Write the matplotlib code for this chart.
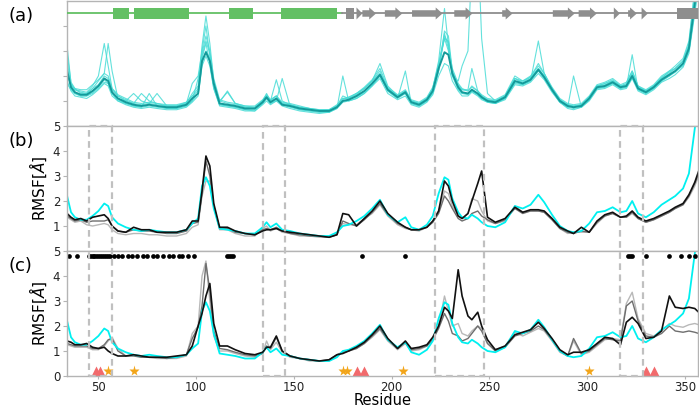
import matplotlib.pyplot as plt
from matplotlib.patches import Rectangle

# residue grid shared by every curve
residues = [34, 36, 38, 41, 44, 47, 50, 53, 55, 57,
            60, 64, 68, 72, 76, 80, 85, 90, 95, 98,
            101, 103, 105, 107, 109, 112, 116, 120, 125, 130,
            134, 136, 138, 141, 144, 148, 153, 158, 163, 168,
            172, 175, 178, 182, 186, 190, 194, 198, 203, 207,
            210, 214, 218, 221, 224, 227, 229, 231, 234, 236,
            239, 241, 244, 246, 249, 253, 258, 263, 267, 271,
            275, 278, 282, 286, 290, 293, 297, 301, 305, 309,
            313, 317, 320, 323, 326, 330, 334, 338, 342, 345,
            349, 352, 355, 357]

# mean RMSF (cyan in b/c, dark teal in a)
rmsf_mean = [2.2, 1.55, 1.35, 1.25, 1.25, 1.4, 1.6, 1.9, 1.8, 1.35,
             1.1, 0.95, 0.85, 0.8, 0.85, 0.8, 0.75, 0.75, 0.85, 1.1,
             1.3, 2.6, 2.95, 2.6, 1.7, 0.9, 0.85, 0.8, 0.7, 0.7,
             0.95, 1.15, 0.95, 1.1, 0.85, 0.8, 0.7, 0.65, 0.6, 0.6,
             0.75, 1.0, 1.05, 1.2, 1.4, 1.7, 2.05, 1.45, 1.15, 1.35,
             0.95, 0.85, 1.05, 1.4, 2.3, 2.95, 2.85, 2.1, 1.55, 1.35,
             1.3, 1.45, 1.3, 1.15, 1.0, 0.95, 1.15, 1.8, 1.7, 1.85,
             2.25, 1.95, 1.45, 1.0, 0.8, 0.75, 0.8, 1.1, 1.55, 1.6,
             1.75, 1.55, 1.6, 2.0, 1.5, 1.35, 1.55, 1.85, 2.05, 2.2,
             2.5, 3.1, 4.9, 6.0]

# individual replicas, panel (a)
rep1 = [3.2, 1.7, 1.45, 1.4, 1.35, 1.6, 2.0, 3.3, 2.4, 1.5,
        1.2, 1.0, 1.3, 1.0, 0.9, 0.85, 0.8, 0.8, 0.9, 1.3,
        1.6, 3.2, 4.4, 3.3, 1.8, 1.0, 0.9, 0.85, 0.75, 0.7,
        1.0, 1.3, 1.0, 1.2, 0.9, 0.85, 0.75, 0.7, 0.6, 0.65,
        0.8, 1.2, 1.1, 1.25, 1.5, 1.8, 2.5, 1.6, 1.2, 1.4,
        1.0, 0.9, 1.1, 1.5, 2.6, 4.7, 3.2, 2.3, 1.7, 1.5,
        1.4, 1.6, 1.4, 1.2, 1.05, 1.0, 1.2, 1.9, 1.8, 2.0,
        2.4, 2.1, 1.5, 1.05, 0.85, 0.8, 0.85, 1.15, 1.6, 1.7,
        1.85, 1.6, 1.7, 2.2, 1.6, 1.4, 1.6, 1.9, 2.2, 2.3,
        2.6, 3.3, 5.5, 6.5]
rep2 = [2.6, 1.6, 1.5, 1.3, 1.3, 1.5, 1.8, 2.1, 3.3, 2.2,
        1.1, 1.0, 0.9, 1.3, 1.0, 0.9, 0.8, 0.8, 0.95, 1.2,
        1.4, 2.8, 3.4, 2.9, 1.6, 0.95, 1.4, 0.9, 0.75, 0.75,
        1.0, 1.2, 1.0, 1.85, 1.0, 0.85, 0.7, 0.65, 0.6, 0.6,
        0.8, 1.1, 1.1, 1.3, 1.5, 1.8, 2.1, 1.5, 1.2, 1.3,
        1.0, 0.9, 1.1, 1.4, 2.4, 3.5, 3.4, 2.0, 1.8, 2.4,
        3.0, 6.5, 7.5, 3.5, 1.3, 1.0, 1.2, 1.9, 1.7, 1.9,
        2.3, 2.0, 1.5, 1.05, 0.8, 0.75, 0.85, 1.1, 1.6, 1.65,
        1.8, 1.6, 1.65, 2.1, 1.55, 1.4, 1.6, 1.9, 2.1, 2.3,
        2.6, 3.2, 5.2, 6.2]
rep3 = [2.3, 1.5, 1.3, 1.2, 1.2, 1.35, 1.55, 1.85, 1.7, 1.3,
        1.05, 0.9, 0.8, 0.75, 1.3, 0.8, 0.7, 0.7, 0.8, 1.0,
        1.9, 2.7, 3.3, 2.5, 1.5, 0.85, 0.8, 0.75, 0.65, 0.6,
        0.9, 1.1, 0.9, 1.0, 1.9, 0.8, 0.65, 0.6, 0.55, 0.55,
        0.7, 2.0, 1.0, 1.1, 1.3, 1.6, 2.0, 1.4, 1.1, 2.2,
        0.9, 0.8, 1.0, 1.3, 2.2, 3.8, 3.6, 2.2, 1.5, 1.3,
        1.3, 1.4, 1.25, 1.1, 1.0, 0.9, 1.1, 1.7, 1.65, 1.8,
        3.4, 2.1, 1.4, 0.95, 0.75, 2.0, 0.75, 1.05, 1.5, 1.55,
        1.7, 1.5, 1.55, 2.85, 1.45, 1.3, 1.5, 1.8, 2.0, 2.2,
        2.4, 3.0, 4.6, 5.8]
rep4 = [1.8, 1.4, 1.2, 1.15, 1.1, 1.25, 1.45, 1.7, 1.6, 1.2,
        1.0, 0.85, 0.75, 0.7, 0.75, 0.7, 0.65, 0.65, 0.75, 0.95,
        1.2, 2.4, 2.8, 2.4, 1.5, 0.8, 0.75, 0.7, 0.6, 0.6,
        0.85, 1.0, 0.85, 1.0, 0.8, 0.7, 0.6, 0.55, 0.5, 0.55,
        0.7, 0.95, 1.0, 1.1, 1.3, 1.6, 1.9, 1.3, 1.05, 1.2,
        0.85, 0.75, 0.95, 1.25, 2.0, 2.5, 2.4, 1.8, 1.4, 1.2,
        1.2, 1.35, 1.2, 1.05, 0.95, 0.9, 1.05, 1.65, 1.6, 1.75,
        2.1, 1.85, 1.35, 0.95, 0.7, 0.65, 0.75, 1.0, 1.45, 1.5,
        1.65, 1.45, 1.5, 1.9, 1.4, 1.25, 1.45, 1.75, 1.9, 2.05,
        2.35, 2.9, 4.5, 5.6]
rep5 = [2.0, 1.65, 1.45, 1.35, 1.3, 1.5, 1.65, 2.0, 1.9, 1.45,
        1.2, 1.05, 0.9, 0.85, 0.9, 1.3, 0.8, 0.8, 0.9, 1.7,
        2.0, 3.0, 4.0, 2.8, 1.7, 1.0, 1.35, 0.9, 0.8, 0.75,
        1.0, 1.2, 1.05, 1.2, 0.9, 0.85, 0.75, 0.7, 0.65, 0.65,
        0.8, 1.05, 1.15, 1.3, 1.5, 1.8, 2.2, 1.5, 1.2, 1.4,
        1.0, 0.9, 1.1, 1.5, 2.5, 3.5, 3.0, 2.1, 1.6, 1.45,
        1.45, 2.3, 1.4, 1.2, 1.05, 1.0, 1.2, 1.9, 1.75, 1.95,
        2.3, 2.0, 1.5, 1.05, 0.85, 0.8, 0.85, 1.15, 1.6, 1.7,
        1.8, 1.6, 1.65, 2.1, 1.55, 1.4, 1.6, 1.95, 2.15, 2.3,
        2.6, 3.2, 5.0, 6.2]
rep6 = [1.7, 1.45, 1.3, 1.2, 1.2, 1.3, 1.5, 1.75, 1.7, 1.3,
        1.0, 0.9, 0.8, 0.75, 0.8, 0.75, 0.7, 0.7, 0.8, 1.0,
        1.3, 2.5, 3.0, 2.7, 1.6, 0.85, 0.8, 0.75, 0.65, 0.65,
        0.9, 1.1, 0.9, 1.05, 0.85, 0.75, 0.65, 0.6, 0.55, 0.55,
        0.75, 1.0, 1.05, 1.15, 1.35, 1.65, 2.0, 1.4, 1.1, 1.3,
        0.9, 0.8, 1.0, 1.35, 2.2, 3.6, 3.3, 2.0, 1.45, 1.3,
        1.25, 1.4, 1.25, 1.1, 0.95, 0.9, 1.1, 1.75, 1.65, 1.8,
        2.2, 1.9, 1.4, 0.95, 0.75, 0.7, 0.75, 1.05, 1.5, 1.55,
        1.7, 1.5, 1.55, 1.95, 1.45, 1.3, 1.5, 1.8, 2.0, 2.15,
        2.45, 3.0, 4.7, 6.0]
rep7 = [2.9, 1.75, 1.5, 1.45, 1.45, 1.65, 1.85, 2.1, 2.0, 1.5,
        1.25, 1.1, 0.95, 0.9, 0.95, 0.9, 0.85, 0.85, 0.95, 1.2,
        1.5, 2.9, 3.6, 3.0, 1.9, 1.05, 0.95, 0.9, 0.8, 0.8,
        1.05, 1.25, 1.05, 1.2, 0.95, 0.9, 0.8, 0.7, 0.65, 0.65,
        0.85, 1.1, 1.15, 1.3, 1.55, 1.85, 2.3, 1.55, 1.25, 1.45,
        1.05, 0.95, 1.15, 1.55, 2.4, 3.7, 3.1, 2.2, 1.65, 1.45,
        1.4, 1.55, 1.4, 1.25, 1.1, 1.05, 1.25, 2.0, 1.8, 1.95,
        2.5, 2.1, 1.55, 1.1, 0.9, 0.85, 0.9, 1.2, 1.65, 1.75,
        1.9, 1.65, 1.75, 2.2, 1.6, 1.45, 1.65, 2.0, 2.2, 2.4,
        2.7, 3.4, 5.4, 6.6]
replicas = [rep1, rep2, rep3, rep4, rep5, rep6, rep7]

# panel (b)
b_black = [1.5, 1.35, 1.25, 1.3, 1.2, 1.35, 1.4, 1.45, 1.3, 1.0,
           0.8, 0.75, 0.95, 0.85, 0.85, 0.75, 0.75, 0.75, 0.85, 1.2,
           1.2, 2.4, 3.8, 3.4, 1.9, 0.95, 0.95, 0.8, 0.7, 0.65,
           0.8, 0.85, 0.85, 0.9, 0.8, 0.75, 0.7, 0.65, 0.6, 0.55,
           0.65, 1.5, 1.45, 1.0, 1.3, 1.6, 2.0, 1.5, 1.15, 0.95,
           0.85, 0.85, 0.95, 1.2, 1.6, 2.8, 2.6, 2.0, 1.4, 1.3,
           1.5, 2.0, 2.7, 3.2, 1.35, 1.15, 1.3, 1.75, 1.55, 1.65,
           1.65, 1.6, 1.3, 0.95, 0.8, 0.7, 0.95, 0.75, 1.2, 1.45,
           1.55, 1.35, 1.4, 1.6, 1.35, 1.2, 1.3, 1.45, 1.6, 1.75,
           1.9, 2.25, 2.75, 3.2]
b_dgray = [1.4, 1.3, 1.2, 1.25, 1.15, 1.2, 1.2, 1.2, 1.25, 1.0,
           0.8, 0.75, 0.85, 0.8, 0.8, 0.75, 0.7, 0.7, 0.8, 1.1,
           1.15, 2.3, 3.6, 3.0, 1.8, 0.9, 0.9, 0.75, 0.7, 0.65,
           0.85, 0.9, 0.85, 0.95, 0.8, 0.7, 0.65, 0.6, 0.6, 0.55,
           0.65, 1.2, 1.1, 1.0, 1.25, 1.55, 1.9, 1.45, 1.1, 0.95,
           0.85, 0.85, 0.95, 1.15, 1.5, 2.2, 2.0, 1.7, 1.3, 1.2,
           1.3, 1.5, 1.6, 1.4, 1.25, 1.1, 1.25, 1.7, 1.5, 1.6,
           1.6, 1.55, 1.25, 0.9, 0.75, 0.7, 0.8, 0.75, 1.15, 1.4,
           1.5, 1.35, 1.35, 1.55, 1.3, 1.15, 1.25, 1.4, 1.55, 1.7,
           1.85, 2.2, 2.7, 3.1]
b_lgray = [1.35, 1.25, 1.15, 1.2, 1.05, 1.0, 1.05, 1.1, 1.05, 0.85,
           0.7, 0.65, 0.7, 0.7, 0.65, 0.65, 0.6, 0.6, 0.7, 0.95,
           1.05, 2.2, 2.8, 2.8, 1.8, 0.85, 0.85, 0.7, 0.6, 0.6,
           0.9, 1.0, 0.8, 0.9, 0.75, 0.7, 0.6, 0.6, 0.55, 0.55,
           0.7, 1.1, 1.05, 1.05, 1.3, 1.5, 1.85, 1.4, 1.05, 0.9,
           0.85, 0.8, 0.95, 1.15, 1.6, 2.4, 2.3, 1.8, 1.4, 1.3,
           1.5, 2.1, 2.0, 1.6, 1.2, 1.1, 1.2, 1.8, 1.55, 1.6,
           1.6, 1.55, 1.25, 0.9, 0.7, 0.75, 0.75, 0.75, 1.1, 1.4,
           1.5, 1.35, 1.35, 1.5, 1.3, 1.15, 1.25, 1.4, 1.55, 1.7,
           1.85, 2.15, 2.6, 3.0]

# panel (c)
c_black = [1.4, 1.35, 1.25, 1.25, 1.3, 1.15, 1.1, 1.15, 1.0, 0.9,
           0.8, 0.8, 0.85, 0.8, 0.75, 0.75, 0.75, 0.8, 0.85, 1.2,
           2.0, 2.5, 3.2, 3.7, 2.1, 1.2, 1.2, 1.05, 0.9, 0.85,
           0.95, 1.15, 1.15, 1.6, 1.0, 0.8, 0.7, 0.65, 0.6, 0.65,
           0.85, 0.9, 1.0, 1.15, 1.35, 1.65, 2.0, 1.5, 1.1, 1.4,
           1.1, 1.15, 1.25, 1.55, 2.0, 2.75, 2.6, 2.3, 4.25, 3.2,
           2.4, 2.25, 2.55, 2.0, 1.45, 1.05, 1.2, 1.65, 1.75, 1.85,
           2.15, 1.9, 1.5, 1.05, 0.85, 0.95, 0.95, 1.05, 1.3, 1.55,
           1.5, 1.25, 2.15, 2.35, 2.1, 1.5, 1.55, 1.8, 3.2, 2.75,
           2.7, 2.75, 2.7, 2.55]
c_dgray = [1.3, 1.25, 1.2, 1.2, 1.2, 1.1, 1.1, 1.25, 1.45, 1.5,
           1.0, 0.8, 0.8, 0.75, 0.75, 0.75, 0.7, 0.75, 0.85, 1.5,
           1.95, 2.8, 4.5, 3.4, 1.8, 1.1, 1.05, 0.95, 0.85, 0.8,
           0.9, 1.2, 1.1, 1.55, 1.0, 0.8, 0.7, 0.65, 0.6, 0.65,
           0.85, 0.95, 1.0, 1.1, 1.3, 1.6, 1.9, 1.45, 1.1, 1.35,
           1.05, 1.1, 1.2, 1.45, 1.9, 2.5, 2.2, 1.7, 1.6, 1.4,
           1.5, 1.7, 2.0, 1.8, 1.3, 1.0, 1.15, 1.6, 1.7, 1.8,
           2.0, 1.85, 1.45, 1.0, 0.8, 1.5, 0.9, 1.0, 1.25, 1.5,
           1.45, 1.4, 2.8, 3.0, 2.2, 1.6, 1.55, 1.7, 2.0, 1.8,
           1.75, 1.8, 1.75, 1.7]
c_lgray = [1.25, 1.2, 1.15, 1.15, 1.15, 1.05, 1.05, 1.2, 1.4, 1.55,
           1.1, 0.8, 0.85, 0.75, 0.75, 0.7, 0.7, 0.7, 0.8, 1.7,
           2.0, 4.0, 4.6, 3.0, 1.6, 1.0, 1.0, 0.9, 0.8, 0.75,
           0.9, 1.4, 1.05, 1.35, 0.95, 0.75, 0.7, 0.6, 0.6, 0.6,
           0.8, 0.95, 1.0, 1.1, 1.3, 1.55, 1.85, 1.4, 1.05, 1.3,
           1.0, 1.05, 1.2, 1.5, 2.0, 3.2, 2.6, 2.0, 2.1, 1.7,
           1.6, 1.8, 2.0, 1.9, 1.3, 1.05, 1.2, 1.75, 1.6, 1.75,
           1.9, 1.8, 1.4, 0.95, 0.8, 1.4, 0.85, 0.95, 1.2, 1.45,
           1.5, 1.45, 2.9, 3.35, 2.3, 1.7, 1.6, 1.8, 2.1, 2.0,
           1.95, 2.05, 2.1, 2.05]

# markers in panel (c)
dot_res = [35, 39, 45, 46, 47, 48, 49, 50, 51, 52, 53, 54, 55, 56, 58, 60,
           62, 65, 67, 70, 73, 75, 78, 80, 83, 86, 88, 91, 93, 96, 99,
           116, 117, 118, 119, 185, 207, 321, 322, 323, 330, 342, 348,
           352, 355]
star_res = [55, 68, 175, 177, 206, 301]
tri_res = [49, 51, 182, 186, 330, 334]

# secondary structure (panel a)
helix_start = [57.7, 68.3, 116.7, 143.2]
helix_end = [65.4, 96.2, 129.1, 172.2]
gbox_start = [176.5, 346]
gbox_end = [180.8, 357]
strand_start = [182, 185, 196.5, 210.4, 232, 256.5, 282.4, 295.6, 313.6, 320.9, 327.8]
strand_end = [185, 192, 205.4, 226, 241.3, 261.8, 293.6, 304.9, 316.7, 325.4, 331]
coil_switch = 174.5

# dashed boxes spanning (b) and (c)
box_start = [45, 134, 222, 317]
box_end = [57, 145.5, 247, 328.5]

XMIN, XMAX = 34, 356.8
SPINE = '#b4b4b4'
GREEN = '#63c064'
SSGRAY = '#8e8e8e'

fig = plt.figure(figsize=(6.99, 4.09), dpi=100)
L, W, H = 0.096, 0.903, 0.3056
ax_a = fig.add_axes([L, 0.692, W, H])
ax_b = fig.add_axes([L, 0.3863, W, H])
ax_c = fig.add_axes([L, 0.0807, W, H])

for ax in (ax_a, ax_b, ax_c):
    ax.set_xlim(XMIN, XMAX)
    ax.set_ylim(0, 5)
    for sp in ax.spines.values():
        sp.set_color(SPINE)
        sp.set_linewidth(1.0)
    ax.tick_params(colors=SPINE, labelcolor='#222222', labelsize=8.5,
                   length=3, width=0.8, pad=2)

# (a) replicas, mean and secondary structure
for rep in replicas:
    ax_a.plot(residues, rep, color='#49dcd6', lw=0.8, alpha=0.85)
ax_a.plot(residues, rmsf_mean, color='#139a9a', lw=1.4)
ax_a.plot([XMIN, coil_switch], [4.5, 4.5], color=GREEN, lw=1.3, zorder=4)
ax_a.plot([coil_switch, XMAX], [4.5, 4.5], color=SSGRAY, lw=1.3, zorder=4)
for s, e in zip(helix_start, helix_end):
    ax_a.add_patch(Rectangle((s, 4.28), e - s, 0.44, fc=GREEN, ec='none', zorder=5))
for s, e in zip(gbox_start, gbox_end):
    ax_a.add_patch(Rectangle((s, 4.28), e - s, 0.44, fc=SSGRAY, ec='none', zorder=5))
for s, e in zip(strand_start, strand_end):
    ax_a.arrow(s, 4.5, e - s, 0, width=0.26, head_width=0.48,
               head_length=min(3.5, e - s), length_includes_head=True,
               fc=SSGRAY, ec='none', zorder=5)
ax_a.set_yticks([1, 2, 3, 4])
ax_a.set_yticklabels([])
ax_a.tick_params(axis='x', length=0, labelbottom=False)

# (b)
ax_b.plot(residues, b_lgray, color='#b8b8b8', lw=1.0)
ax_b.plot(residues, b_dgray, color='#6e6e6e', lw=1.0)
ax_b.plot(residues, rmsf_mean, color='#00f0f0', lw=1.3)
ax_b.plot(residues, b_black, color='#111111', lw=1.2)
ax_b.set_yticks([1, 2, 3, 4, 5])
ax_b.tick_params(axis='x', length=0, labelbottom=False)
ax_b.set_ylabel(r'RMSF[$\AA$]', fontsize=11)
ax_b.yaxis.set_label_coords(-0.028, 0.5)

# (c)
ax_c.plot(residues, c_lgray, color='#b8b8b8', lw=1.0)
ax_c.plot(residues, c_dgray, color='#6e6e6e', lw=1.0)
ax_c.plot(residues, rmsf_mean, color='#00f0f0', lw=1.3)
ax_c.plot(residues, c_black, color='#111111', lw=1.2)
ax_c.plot(dot_res, [4.8] * len(dot_res), 'o', color='black', ms=3.4, mec='none')
ax_c.plot(star_res, [0.18] * len(star_res), '*', color='#f2a51a', ms=8, mec='none')
ax_c.plot(tri_res, [0.2] * len(tri_res), '^', color='#f26a6c', ms=7, mec='none')
ax_c.set_yticks([0, 1, 2, 3, 4, 5])
ax_c.set_xticks([50, 100, 150, 200, 250, 300, 350])
ax_c.tick_params(axis='x', length=2.5, pad=1)
ax_c.set_ylabel(r'RMSF[$\AA$]', fontsize=11)
ax_c.yaxis.set_label_coords(-0.028, 0.5)
ax_c.set_xlabel('Residue', fontsize=10.5)
ax_c.xaxis.set_label_coords(0.5, -0.135)

for s, e in zip(box_start, box_end):
    ax_c.add_patch(Rectangle((s, 0), e - s, 10, fill=False, ec='#c0c0c0',
                             ls=(0, (3, 2)), lw=1.6, clip_on=False, zorder=6))

fig.text(0.012, 0.96, '(a)', fontsize=13, va='center')
fig.text(0.012, 0.655, '(b)', fontsize=13, va='center')
fig.text(0.012, 0.35, '(c)', fontsize=13, va='center')

fig.savefig('out.png', dpi=100)
